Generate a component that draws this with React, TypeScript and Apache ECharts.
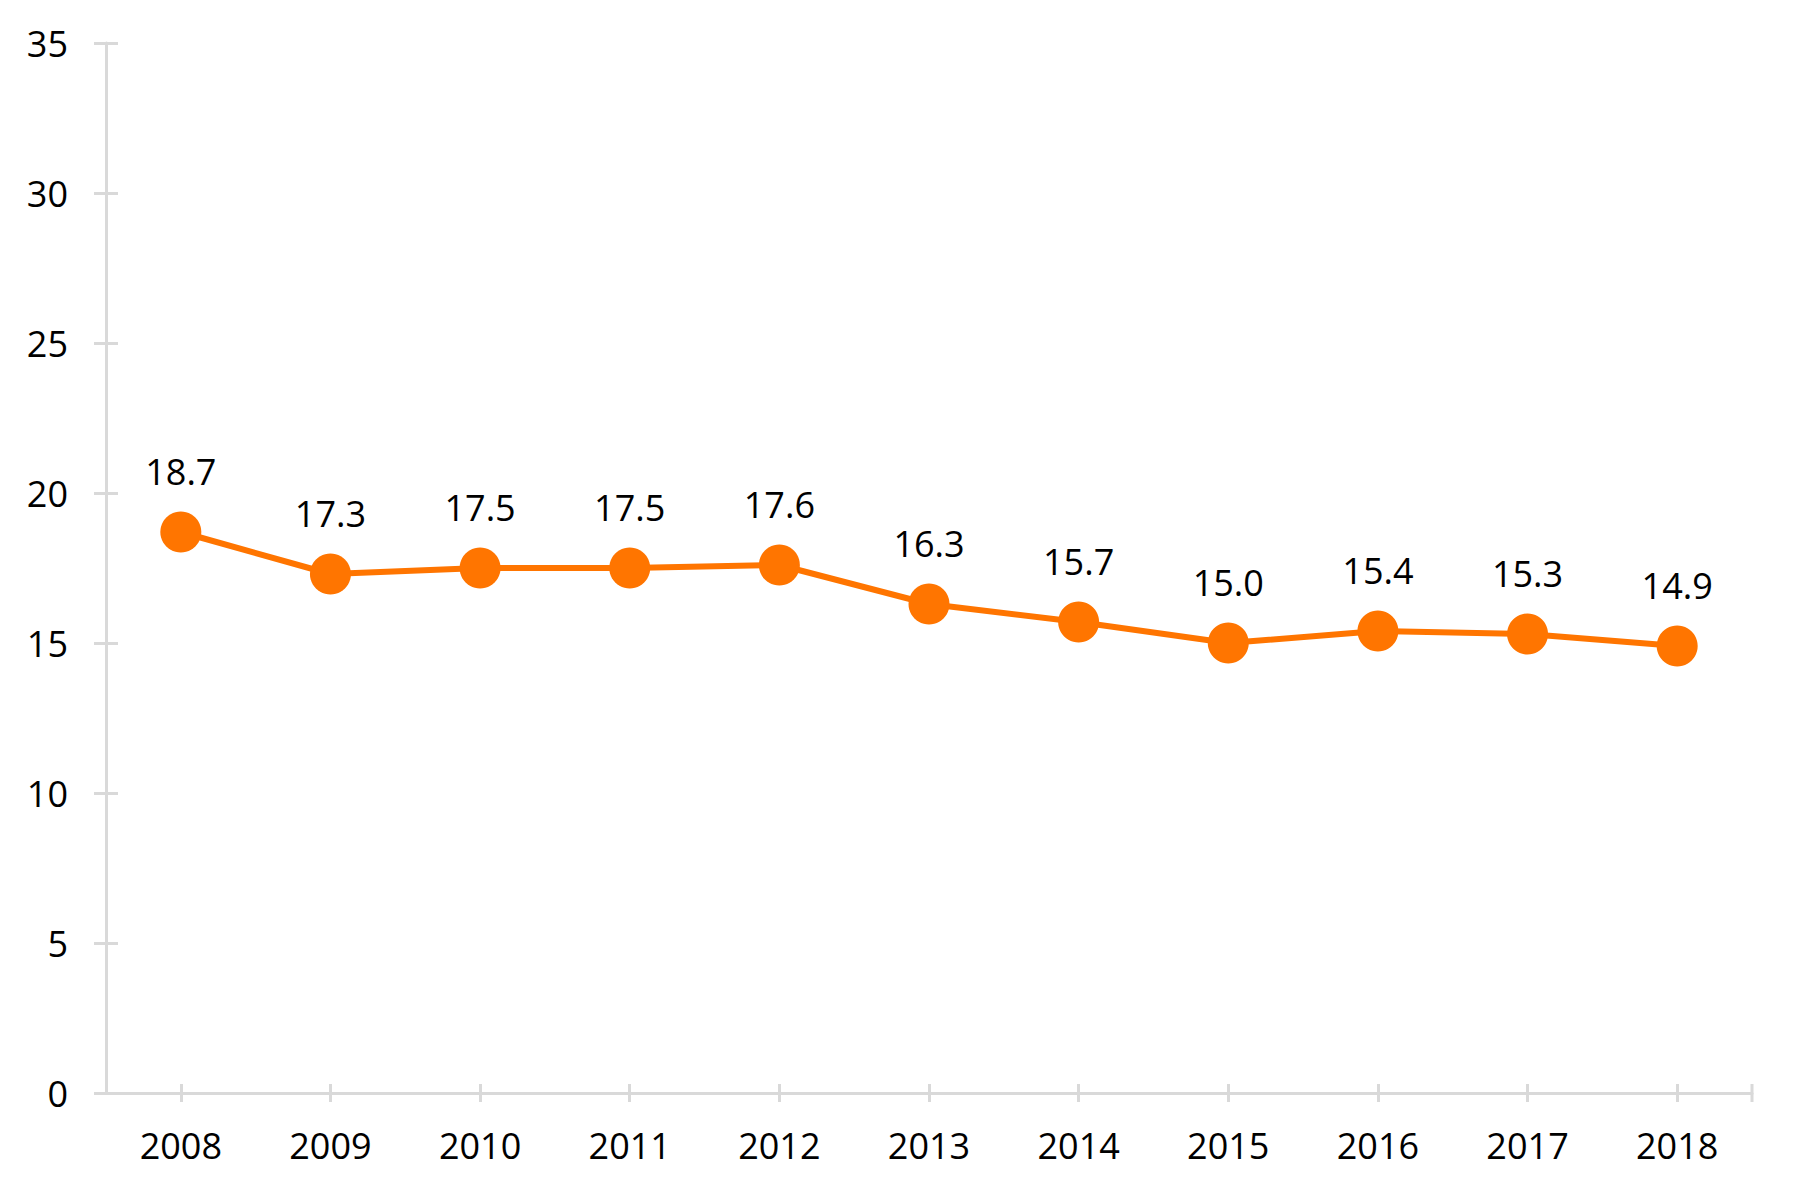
import React, { useEffect, useRef } from "react";
import * as echarts from "echarts";

const years = ["2008", "2009", "2010", "2011", "2012", "2013", "2014", "2015", "2016", "2017", "2018"];
const values = [18.7, 17.3, 17.5, 17.5, 17.6, 16.3, 15.7, 15.0, 15.4, 15.3, 14.9];
const yMin = 0;
const yMax = 35;
const yInterval = 5;

const ORANGE = "#FF7500";
const AXIS = "#D9D9D9";
const FONT = "Open Sans";

export default function App() {
  const ref = useRef<HTMLDivElement>(null);
  useEffect(() => {
    if (!ref.current) return;
    const chart = echarts.init(ref.current, undefined, { renderer: "svg" });
    const grid = { left: 106, right: 45, top: 43, bottom: 104, containLabel: false };
    chart.setOption({
      animation: false,
      backgroundColor: "#ffffff",
      grid,
      xAxis: [
        {
          type: "category",
          data: years,
          boundaryGap: true,
          axisLine: { show: true, lineStyle: { color: AXIS, width: 3 } },
          axisTick: { show: true, alignWithLabel: true, length: 9, lineStyle: { color: AXIS, width: 3 } },
          axisLabel: { color: "#000", fontFamily: FONT, fontSize: 36, margin: 34 },
          splitLine: { show: false },
        },
        {
          type: "category",
          data: years,
          position: "bottom",
          boundaryGap: true,
          axisLine: { show: false },
          axisTick: { show: true, inside: true, alignWithLabel: true, length: 9, lineStyle: { color: AXIS, width: 3 } },
          axisLabel: { show: false },
          splitLine: { show: false },
        },
      ],
      yAxis: [
        {
          type: "value",
          min: yMin,
          max: yMax,
          interval: yInterval,
          axisLine: { show: true, lineStyle: { color: AXIS, width: 3 } },
          axisTick: { show: true, length: 12, lineStyle: { color: AXIS, width: 3 } },
          axisLabel: { color: "#000", fontFamily: FONT, fontSize: 36, margin: 38 },
          splitLine: { show: false },
        },
        {
          type: "value",
          position: "left",
          min: yMin,
          max: yMax,
          interval: yInterval,
          axisLine: { show: false },
          axisTick: { show: true, inside: true, length: 12, lineStyle: { color: AXIS, width: 3 } },
          axisLabel: { show: false },
          splitLine: { show: false },
        },
      ],
      series: [
        {
          type: "line",
          xAxisIndex: 0,
          yAxisIndex: 0,
          data: values,
          symbol: "circle",
          symbolSize: 41,
          lineStyle: { color: ORANGE, width: 6 },
          itemStyle: { color: ORANGE },
          label: {
            show: true,
            position: "top",
            distance: 22,
            color: "#000",
            fontFamily: FONT,
            fontSize: 36,
            formatter: (p: any) => Number(p.value).toFixed(1),
          },
          z: 5,
        },
      ],
    });
    // closing tick at the right end of the category axis
    const p0 = chart.convertToPixel({ xAxisIndex: 0 }, 0) as number;
    const p1 = chart.convertToPixel({ xAxisIndex: 0 }, 1) as number;
    const last = chart.convertToPixel({ xAxisIndex: 0 }, years.length - 1) as number;
    const yZero = chart.convertToPixel({ yAxisIndex: 0 }, 0) as number;
    const xEnd = last + (p1 - p0) / 2;
    chart.setOption({
      graphic: [
        {
          type: "line",
          shape: { x1: xEnd, y1: yZero - 9, x2: xEnd, y2: yZero + 9 },
          style: { stroke: AXIS, lineWidth: 3 },
          z: 1,
        },
      ],
    });
    return () => chart.dispose();
  }, []);
  return (
    <div
      ref={ref}
      style={{ position: "fixed", left: 0, top: 0, width: 1797, height: 1197, background: "#fff" }}
    />
  );
}
